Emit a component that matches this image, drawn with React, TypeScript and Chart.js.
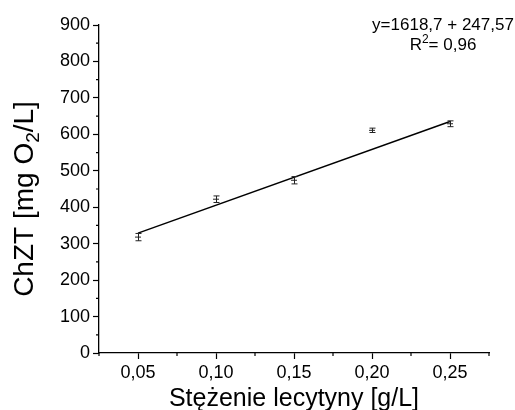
import React, { useEffect, useRef } from 'react';
import { Chart, registerables } from 'chart.js';

Chart.register(...registerables);

// ---- data ----
const concentrations = [0.05, 0.1, 0.15, 0.2, 0.25];
const codValues = [318, 422, 474, 611, 629];
const codErrors = [10, 9, 10, 6, 8];
const fitX = [0.05, 0.25];
const fitY = [329, 635];

const xTickValues = [0.05, 0.1, 0.15, 0.2, 0.25];
const xTickLabels = ['0,05', '0,10', '0,15', '0,20', '0,25'];
const xMinorTicks = [0.025, 0.075, 0.125, 0.175, 0.225, 0.275];
const yTickValues = [0, 100, 200, 300, 400, 500, 600, 700, 800, 900];
const yMinorTicks = [50, 150, 250, 350, 450, 550, 650, 750, 850];

const xTitle = 'Stężenie lecytyny [g/L]';
const yTitleParts = ['ChZT [mg O', '2', '/L]'];
const equationLine1 = 'y=1618,7 + 247,57';
const equationLine2Parts = ['R', '2', '= 0,96'];

const FONT = "'Liberation Sans', Arial, Helvetica, sans-serif";

const decorPlugin = {
  id: 'decor',
  afterDatasetsDraw(chart: any) {
    const ctx = chart.ctx;
    const xs = chart.scales.x;
    const ys = chart.scales.y;
    const area = chart.chartArea;
    ctx.save();
    // error bars
    ctx.strokeStyle = '#222';
    ctx.lineWidth = 1;
    concentrations.forEach((c, i) => {
      const px = Math.round(xs.getPixelForValue(c)) + 0.5;
      const top = ys.getPixelForValue(codValues[i] + codErrors[i]);
      const bot = ys.getPixelForValue(codValues[i] - codErrors[i]);
      ctx.beginPath();
      ctx.moveTo(px, top);
      ctx.lineTo(px, bot);
      ctx.moveTo(px - 3, top);
      ctx.lineTo(px + 3, top);
      ctx.moveTo(px - 3, bot);
      ctx.lineTo(px + 3, bot);
      ctx.stroke();
    });
    // minor ticks
    ctx.strokeStyle = '#000';
    ctx.lineWidth = 1.2;
    ctx.beginPath();
    yMinorTicks.forEach((v) => {
      const py = ys.getPixelForValue(v);
      ctx.moveTo(area.left, py);
      ctx.lineTo(area.left - 3, py);
    });
    xMinorTicks.forEach((v) => {
      const px = xs.getPixelForValue(v);
      ctx.moveTo(px, area.bottom);
      ctx.lineTo(px, area.bottom + 3);
    });
    ctx.stroke();
    ctx.restore();
  },
  afterDraw(chart: any) {
    const ctx = chart.ctx;
    const area = chart.chartArea;
    ctx.save();
    ctx.fillStyle = '#000';
    // equation
    ctx.font = `17px ${FONT}`;
    ctx.textAlign = 'center';
    ctx.textBaseline = 'alphabetic';
    ctx.fillText(equationLine1, 443, 30);
    ctx.textAlign = 'left';
    const big = `17px ${FONT}`;
    const small = `12px ${FONT}`;
    ctx.font = big;
    const w0 = ctx.measureText(equationLine2Parts[0]).width;
    const w2 = ctx.measureText(equationLine2Parts[2]).width;
    ctx.font = small;
    const w1 = ctx.measureText(equationLine2Parts[1]).width;
    let sx = 443 - (w0 + w1 + w2) / 2;
    ctx.font = big;
    ctx.fillText(equationLine2Parts[0], sx, 50);
    sx += w0;
    ctx.font = small;
    ctx.fillText(equationLine2Parts[1], sx, 43);
    sx += w1;
    ctx.font = big;
    ctx.fillText(equationLine2Parts[2], sx, 50);

    // x title
    ctx.font = `25px ${FONT}`;
    ctx.textAlign = 'center';
    ctx.fillText(xTitle, (area.left + area.right) / 2, 406);

    // y title (rotated)
    ctx.translate(33, 199);
    ctx.rotate(-Math.PI / 2);
    ctx.textAlign = 'left';
    const yb = `28px ${FONT}`;
    const ys2 = `19px ${FONT}`;
    ctx.font = yb;
    const a = ctx.measureText(yTitleParts[0]).width;
    const c = ctx.measureText(yTitleParts[2]).width;
    ctx.font = ys2;
    const b = ctx.measureText(yTitleParts[1]).width;
    let tx = -(a + b + c) / 2;
    ctx.font = yb;
    ctx.fillText(yTitleParts[0], tx, 0);
    tx += a;
    ctx.font = ys2;
    ctx.fillText(yTitleParts[1], tx, 6);
    tx += b;
    ctx.font = yb;
    ctx.fillText(yTitleParts[2], tx, 0);
    ctx.restore();
  },
};

export default function App() {
  const canvasRef = useRef<HTMLCanvasElement | null>(null);

  useEffect(() => {
    if (!canvasRef.current) return;
    const chart = new Chart(canvasRef.current, {
      type: 'scatter',
      data: {
        datasets: [
          {
            label: 'ChZT',
            data: concentrations.map((c, i) => ({ x: c, y: codValues[i] })),
            showLine: false,
            pointStyle: 'line',
            pointRadius: 3,
            pointBorderColor: '#222',
            pointBorderWidth: 1,
            borderColor: '#222',
          },
          {
            label: 'fit',
            data: fitX.map((x, i) => ({ x, y: fitY[i] })),
            showLine: true,
            pointRadius: 0,
            borderColor: '#000',
            borderWidth: 1.5,
          },
        ],
      },
      options: {
        animation: false,
        responsive: true,
        maintainAspectRatio: false,
        layout: { padding: { top: 25, right: 26, left: 0, bottom: 0 } },
        plugins: {
          legend: { display: false },
          tooltip: { enabled: false },
        },
        scales: {
          x: {
            type: 'linear',
            min: 0.025,
            max: 0.275,
            afterBuildTicks: (scale: any) => {
              scale.ticks = xTickValues.map((v) => ({ value: v }));
            },
            afterFit: (scale: any) => {
              scale.height = 57;
            },
            ticks: {
              autoSkip: false,
              maxRotation: 0,
              padding: 3,
              color: '#000',
              font: { family: FONT, size: 18 },
              callback: (_v: any, i: number) => xTickLabels[i],
            },
            grid: {
              drawOnChartArea: false,
              drawTicks: true,
              tickLength: 6,
              tickColor: '#000',
              tickWidth: 1.2,
            },
            border: { display: true, color: '#000', width: 1.3 },
          },
          y: {
            type: 'linear',
            min: 0,
            max: 900,
            afterBuildTicks: (scale: any) => {
              scale.ticks = yTickValues.map((v) => ({ value: v }));
            },
            afterFit: (scale: any) => {
              scale.width = 99;
            },
            ticks: {
              autoSkip: false,
              padding: 3,
              color: '#000',
              font: { family: FONT, size: 18 },
              callback: (v: any) => String(v),
            },
            grid: {
              drawOnChartArea: false,
              drawTicks: true,
              tickLength: 6,
              tickColor: '#000',
              tickWidth: 1.2,
            },
            border: { display: true, color: '#000', width: 1.3 },
          },
        },
      },
      plugins: [decorPlugin],
    } as any);
    return () => chart.destroy();
  }, []);

  return (
    <div style={{ position: 'fixed', left: 0, top: 0, width: 515, height: 410, background: '#fff' }}>
      <canvas ref={canvasRef} />
    </div>
  );
}
